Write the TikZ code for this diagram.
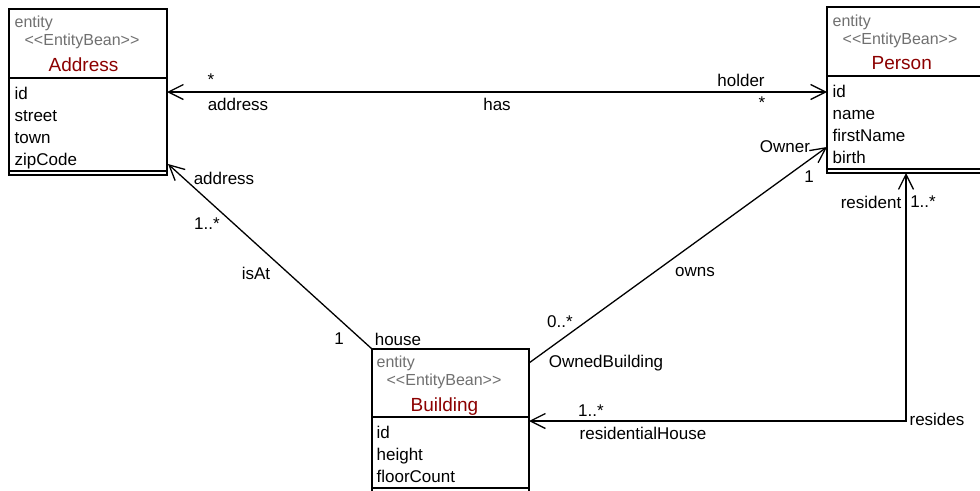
\documentclass[tikz,border=0pt]{standalone}
\usepackage{fontspec}
\setmainfont{Liberation Sans}
\usetikzlibrary{arrows.meta}
\definecolor{hdrgray}{RGB}{112,112,112}
\definecolor{namered}{RGB}{140,0,0}
\newcommand{\stereotxt}{{<}{<}EntityBean{>}{>}}
\begin{document}
\begin{tikzpicture}[x=1pt,y=-1pt,line width=1.3pt,
  box/.style={draw,line width=1.3pt,anchor=north west,minimum width=158pt,inner sep=0pt,outer sep=0pt},
  stereo/.style={anchor=base west,inner sep=0pt,text=hdrgray,font=\fontsize{16}{18}\selectfont},
  ename/.style={anchor=base west,inner sep=0pt,text=namered,font=\fontsize{19}{22}\selectfont},
  attr/.style={anchor=base west,inner sep=0pt,font=\fontsize{17}{20}\selectfont},
  lbl/.style={inner sep=0pt,font=\fontsize{17}{20}\selectfont},
  tip/.tip={Straight Barb[length=15pt,width=15pt]},
  nav/.style={-tip},
  bothnav/.style={tip-tip},
]
\clip (0,0) rectangle (980,490);
\fill[white] (0,0) rectangle (980,490);

% Address
\node[box,minimum height=166pt] (addr) at (9,9) {};
\draw (9,78) -- (167,78);
\draw (9,171) -- (167,171);
\node[stereo] (addrE) at (14,27) {entity};
\node[stereo] (addrS) at (24,45) {\stereotxt};
\node[ename] (addrN) at (48,71) {Address};
\node[attr] (addr1) at (14,99) {id};
\node[attr] (addr2) at (14,121) {street};
\node[attr] (addr3) at (14,143) {town};
\node[attr] (addr4) at (14,165) {zipCode};

% Person
\node[box,minimum height=166pt] (pers) at (827,7) {};
\draw (827,76) -- (990,76);
\draw (827,169) -- (990,169);
\node[stereo] (persE) at (832,26) {entity};
\node[stereo] (persS) at (842,44) {\stereotxt};
\node[ename] (persN) at (871,69) {Person};
\node[attr] (pers1) at (832,97) {id};
\node[attr] (pers2) at (832,119) {name};
\node[attr] (pers3) at (832,141) {firstName};
\node[attr] (pers4) at (832,163) {birth};

% Building
\node[box,minimum height=150pt,minimum width=157pt] (bld) at (372,349) {};
\draw (372,417) -- (529,417);
\draw (372,488) -- (529,488);
\node[stereo] (bldE) at (376,367) {entity};
\node[stereo] (bldS) at (386,385) {\stereotxt};
\node[ename] (bldN) at (410,411) {Building};
\node[attr] (bld1) at (376,438) {id};
\node[attr] (bld2) at (376,460) {height};
\node[attr] (bld3) at (376,482) {floorCount};

% connector end points
\coordinate (hasA) at (167,92);
\coordinate (hasP) at (827,92);
\coordinate (isAtA) at (168,164);
\coordinate (ownsB) at (529,363);
\coordinate (ownsP) at (827,147);
\coordinate (resP) at (906,173);
\coordinate (resB) at (529,421);

\draw[bothnav] (hasA) -- (hasP);
\draw[nav] (bld.north west) -- (isAtA);
\draw[nav] (ownsB) -- (ownsP);
\draw[bothnav] (resP) |- (resB);

% labels
\node[lbl] (l1) at (211,80) {*};
\node[lbl] (l2) at (238,104) {address};
\node[lbl] (l3) at (497,104) {has};
\node[lbl] (l4) at (741,80) {holder};
\node[lbl] (l5) at (762,103) {*};
\node[lbl] (l6) at (224,178) {address};
\node[lbl] (l7) at (207,224) {1..*};
\node[lbl] (l8) at (256,273) {isAt};
\node[lbl] (l9) at (339,339) {1};
\node[lbl] (l10) at (398,339) {house};
\node[lbl] (l11) at (560,322) {0..*};
\node[lbl] (l12) at (606,363) {OwnedBuilding};
\node[lbl] (l13) at (695,272) {owns};
\node[lbl] (l14) at (785,147) {Owner};
\node[lbl] (l15) at (809,177) {1};
\node[lbl] (l16) at (871,202) {resident};
\node[lbl] (l17) at (923,202) {1..*};
\node[lbl] (l18) at (937,419) {resides};
\node[lbl] (l19) at (591,411) {1..*};
\node[lbl] (l20) at (643,433) {residentialHouse};
\end{tikzpicture}
\end{document}
